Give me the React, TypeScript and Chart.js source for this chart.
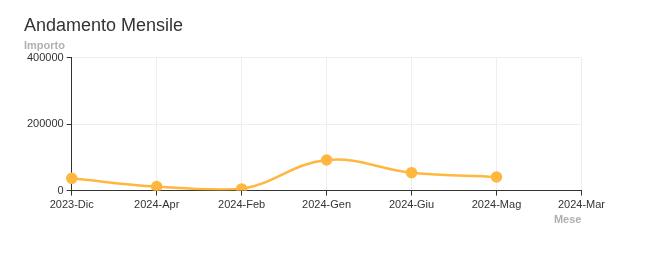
import React, { useEffect, useRef } from "react";
import { Chart, registerables } from "chart.js";

Chart.register(...registerables);

const categories = ["2023-Dic", "2024-Apr", "2024-Feb", "2024-Gen", "2024-Giu", "2024-Mag", "2024-Mar"];
const importi: (number | null)[] = [37000, 12000, 5000, 92000, 54000, 41000, null];
const yTicks = [0, 200000, 400000];

const FONT = "'Liberation Sans', Arial, sans-serif";
const ORANGE = "#ffb740";

export default function App() {
  const ref = useRef<HTMLCanvasElement | null>(null);
  useEffect(() => {
    if (!ref.current) return;
    const chart = new Chart(ref.current, {
      type: "line",
      data: {
        labels: categories,
        datasets: [
          {
            label: "Importo",
            data: importi,
            borderColor: ORANGE,
            backgroundColor: ORANGE,
            pointBackgroundColor: ORANGE,
            pointBorderColor: ORANGE,
            pointRadius: 4.5,
            borderWidth: 2.5,
            tension: 0.4,
            fill: false,
          },
        ],
      },
      options: {
        animation: false,
        responsive: true,
        maintainAspectRatio: false,
        layout: { padding: { left: 16, right: 16, top: 7, bottom: 3 } },
        plugins: {
          legend: { display: false },
          tooltip: { enabled: false },
          title: {
            display: true,
            text: "Andamento Mensile",
            align: "start",
            color: "#333",
            font: { family: FONT, size: 18, weight: "normal" },
            padding: { top: 0, bottom: 3 },
          },
          subtitle: {
            display: true,
            text: "Importo",
            align: "start",
            color: "#b0b0b0",
            font: { family: FONT, size: 11, weight: "bold" },
            padding: { top: 0, bottom: 5 },
          },
        },
        scales: {
          x: {
            border: { display: true, color: "#333", width: 1 },
            grid: { color: "#eeeeee", tickLength: 5, tickColor: "#333" },
            ticks: { color: "#333", padding: 3, font: { family: FONT, size: 11 }, maxRotation: 0 },
            title: {
              display: true,
              text: "Mese",
              align: "end",
              color: "#b0b0b0",
              font: { family: FONT, size: 11, weight: "bold" },
              padding: { top: -1, bottom: 0 },
            },
          },
          y: {
            min: 0,
            max: 400000,
            border: { display: true, color: "#333", width: 1 },
            grid: { color: "#eeeeee", tickLength: 5, tickColor: "#333" },
            afterBuildTicks: (axis: any) => {
              axis.ticks = yTicks.map((v) => ({ value: v }));
            },
            ticks: {
              color: "#333",
              padding: 3,
              font: { family: FONT, size: 11 },
              callback: (v: any) => String(v),
            },
          },
        },
      },
    });
    return () => chart.destroy();
  }, []);
  return (
    <div style={{ width: 600, height: 222, position: "relative" }}>
      <canvas ref={ref} />
    </div>
  );
}
